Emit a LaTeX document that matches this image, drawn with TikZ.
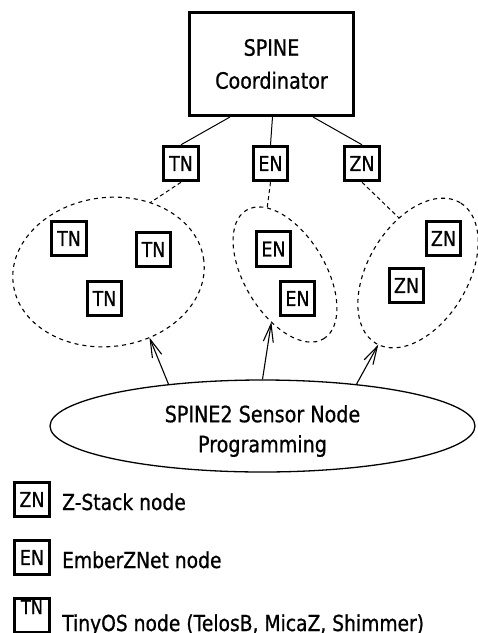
\documentclass[tikz,border=0pt]{standalone}
\usepackage{fontspec}
\setmainfont{DejaVu Sans}[FakeStretch=0.85,FakeBold=0.8]
\usetikzlibrary{shapes.geometric,arrows.meta}
\tikzset{
  nodebox/.style={draw, line width=3pt, minimum width=34.5pt, minimum height=34.5pt, inner sep=0pt, font=\fontsize{20.5}{22}\selectfont},
  cluster/.style={draw, ellipse, dash pattern=on 4pt off 4pt, line width=1.1pt, inner sep=0pt, outer sep=0pt},
  link/.style={line width=1pt},
  dlink/.style={line width=1pt, dash pattern=on 4pt off 3pt},
  prog/.style={-{Straight Barb[length=18pt,width=10pt]}, line width=1.1pt},
  legendtext/.style={anchor=base west, inner sep=0pt, font=\fontsize{22}{26}\selectfont},
}
\begin{document}
\begin{tikzpicture}[x=1pt,y=-1pt]
\useasboundingbox (0,0) rectangle (478,633);
\clip (0,0) rectangle (478,633);
% coordinator
\node[draw, line width=3pt, minimum width=164pt, minimum height=103pt, inner sep=0pt, align=center, font=\fontsize{22.5}{33}\selectfont] (coord) at (271.5,64) {SPINE\\Coordinator};
% top nodes
\node[nodebox] (tnt) at (181,163.5) {TN};
\node[nodebox] (ent) at (270.5,163.5) {EN};
\node[nodebox] (znt) at (362,163.5) {ZN};
% clusters
\node[cluster, minimum width=192pt, minimum height=149pt, rotate=7] (cl) at (108.5,272) {};
\node[cluster, minimum width=150pt, minimum height=81pt, rotate=-59] (cm) at (285,274.5) {};
\node[cluster, minimum width=164pt, minimum height=100pt, rotate=59] (cr) at (418,273) {};
% cluster members
\node[nodebox] (tn1) at (69,238.5) {TN};
\node[nodebox] (tn2) at (153.5,249.5) {TN};
\node[nodebox] (tn3) at (104.5,298.5) {TN};
\node[nodebox] (en1) at (273.5,249) {EN};
\node[nodebox] (en2) at (297.5,298.5) {EN};
\node[nodebox] (zn1) at (443.5,238.5) {ZN};
\node[nodebox] (zn2) at (406.5,285.5) {ZN};
% programming ellipse
\node[draw, ellipse, line width=1.3pt, minimum width=425pt, minimum height=92pt, inner sep=0pt,
  label={[yshift=-5pt, inner sep=0pt, align=center, font=\fontsize{22.5}{30}\selectfont]center:SPINE2 Sensor Node\\Programming}] (spine2) at (262.5,426) {};
% connectors
\draw[link] ([xshift=-41.5pt]coord.south) -- (tnt.north);
\draw[link] ([xshift=1pt]coord.south) -- (ent.north);
\draw[link] ([xshift=41.5pt]coord.south) -- (znt.north);
\draw[dlink] (tnt.south) -- (cl.52);
\draw[dlink] (ent.south) -- (cm.164);
\draw[dlink] (znt.south) -- (cr.50);
\draw[prog] (spine2.156) -- (cl.-65);
\draw[prog] (spine2.90) -- (cm.-47);
\draw[prog] (spine2.24) -- (cr.182);
% legend
\node[nodebox] (lzn) at (32,499.5) {ZN};
\node[legendtext] (lznt) at (62,510) {Z-Stack node};
\node[nodebox] (len) at (32,557.5) {EN};
\node[legendtext] (lent) at (62,568) {EmberZNet node};
\node[nodebox, text height=14pt, text depth=17pt, font=\fontsize{19}{21}\selectfont] (ltn) at (32,615.5) {TN};
\node[legendtext] (ltnt) at (62,631) {TinyOS node (TelosB, MicaZ, Shimmer)};
\end{tikzpicture}
\end{document}
